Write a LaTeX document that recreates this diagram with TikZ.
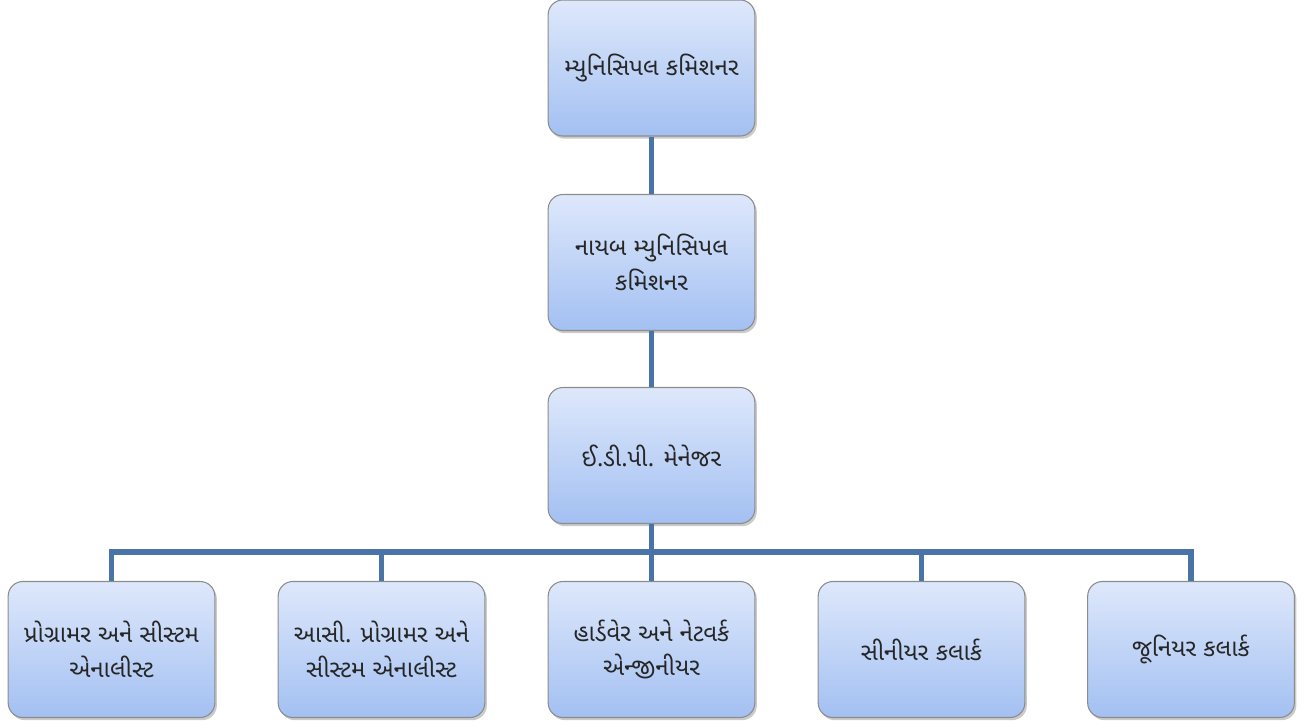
\documentclass[tikz,border=0pt]{standalone}
\usepackage{fontspec}
\newfontfamily\guj[Script=Gujarati]{Noto Sans Gujarati UI}
\usetikzlibrary{shadows}
\definecolor{boxtop}{HTML}{DEE8FB}
\definecolor{boxbot}{HTML}{A3C0F2}
\definecolor{boxline}{HTML}{8C8C8C}
\definecolor{conn}{HTML}{4A74A8}
\tikzset{
  orgbox/.style={draw=boxline, line width=0.8pt, rounded corners=11pt,
    top color=boxtop, bottom color=boxbot,
    minimum width=155pt, minimum height=102pt, inner sep=2pt,
    align=center, font=\guj\fontsize{18}{26}\selectfont, text=black!85,
    drop shadow={shadow xshift=1.5pt, shadow yshift=-2pt, opacity=0.35, fill=black!60}},
  link/.style={draw=conn, line width=3.8pt}
}
\begin{document}
\begin{tikzpicture}[x=0.75pt,y=-0.75pt]
\useasboundingbox (0,0) rectangle (1315,725);
\node[orgbox] (mc) at (651.5,68) {મ્યુનિસિપલ કમિશનર};
\node[orgbox] (dmc) at (651.5,262.5) {નાયબ મ્યુનિસિપલ\\કમિશનર};
\node[orgbox] (edp) at (651.5,455.5) {ઈ.ડી.પી. મેનેજર};
\node[orgbox] (b1) at (111.5,649.5) {પ્રોગ્રામર અને સીસ્ટમ\\એનાલીસ્ટ};
\node[orgbox] (b2) at (381.5,649.5) {આસી. પ્રોગ્રામર અને\\સીસ્ટમ એનાલીસ્ટ};
\node[orgbox] (b3) at (651.5,649.5) {હાર્ડવેર અને નેટવર્ક\\એન્જીનીયર};
\node[orgbox] (b4) at (921.5,649.5) {સીનીયર કલાર્ક};
\node[orgbox] (b5) at (1191,649.5) {જૂનિયર કલાર્ક};
\coordinate (bus) at (651.5,552);
\draw[link] (mc.south) -- (dmc.north);
\draw[link] (dmc.south) -- (edp.north);
\draw[link] (edp.south) -- (b3.north);
\draw[link] (b1.north) |- (bus);
\draw[link] (b2.north) -- (b2.north |- bus);
\draw[link] (b4.north) -- (b4.north |- bus);
\draw[link] (b5.north) |- (bus);
\end{tikzpicture}
\end{document}
